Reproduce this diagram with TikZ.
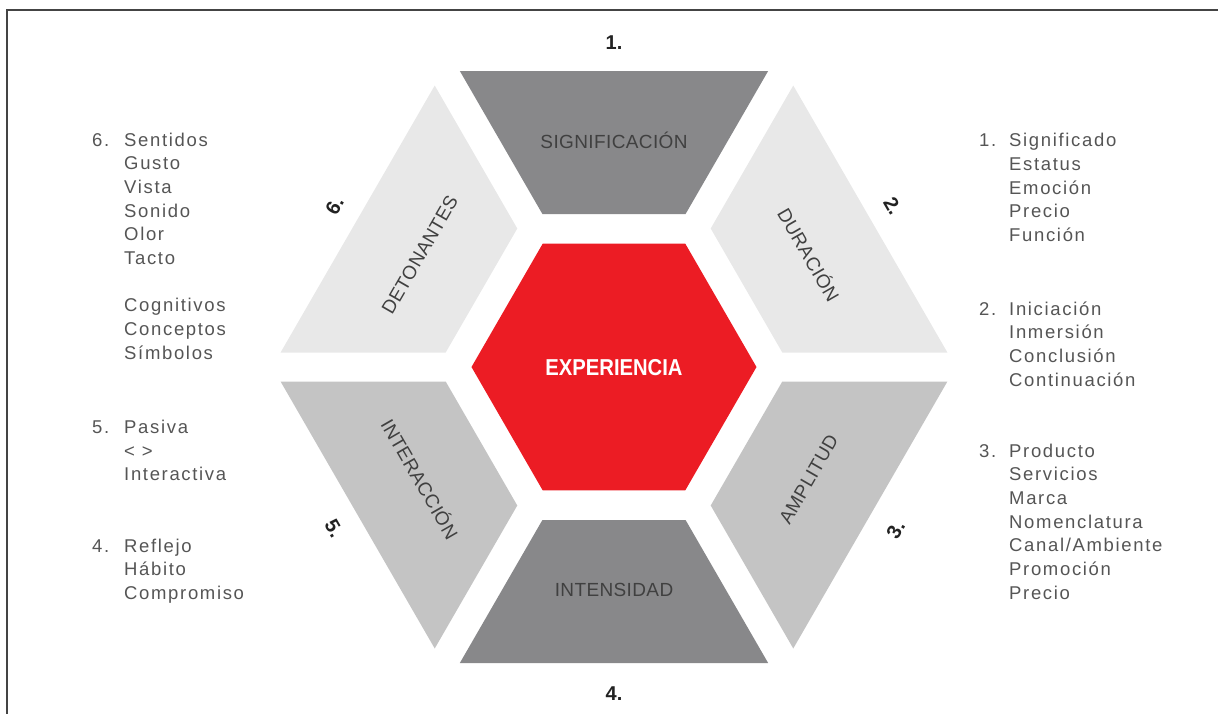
\documentclass[tikz,border=0pt]{standalone}
\usepackage{fontspec}
\setmainfont{Liberation Sans}
\newfontfamily\listfont[LetterSpace=9]{Liberation Sans}
\newfontfamily\lblfont[LetterSpace=2]{Liberation Sans}
\newfontfamily\expfont[FakeStretch=0.88]{Liberation Sans}
\definecolor{segdark}{HTML}{88888A}
\definecolor{seglight}{HTML}{E8E8E8}
\definecolor{segmid}{HTML}{C4C4C4}
\definecolor{expred}{HTML}{EC1C24}
\definecolor{txtgray}{HTML}{555555}
\definecolor{lblgray}{HTML}{404040}
\definecolor{numblack}{HTML}{222222}
\definecolor{framegray}{HTML}{444444}
\begin{document}
\begin{tikzpicture}[x=1pt,y=1pt,
  lbl/.style={font=\lblfont\fontsize{19}{19}\selectfont, text=lblgray, inner sep=0pt, text height=13.6pt, text depth=0pt},
  numlbl/.style={font=\bfseries\fontsize{20}{20}\selectfont, text=numblack, inner sep=0pt, text height=14.3pt, text depth=0pt},
  listtxt/.style={font=\listfont\fontsize{18.5}{23.7}\selectfont, text=txtgray, inner sep=0pt, anchor=base west},
  listnum/.style={font=\listfont\fontsize{18.5}{23.7}\selectfont, text=txtgray, inner sep=0pt, anchor=base west},
]
\useasboundingbox (-614,-346) rectangle (604,367);
% frame
\draw[framegray, line width=2pt, line join=miter] (-607,-360) -- (-607,357) -- (620,357);
% segments
\foreach \ang/\col in {90/segdark, 30/seglight, -30/segmid, -90/segdark, -150/segmid, 150/seglight}
  \fill[\col, rotate=\ang] (153,-71.59) -- (296,-154.15) -- (296,154.15) -- (153,71.59) -- cycle;
% centre
\fill[expred] (0:142.5) -- (60:142.5) -- (120:142.5) -- (180:142.5) -- (240:142.5) -- (300:142.5) -- cycle;
\node[font=\expfont\bfseries\fontsize{23}{23}\selectfont, text=white, inner sep=0pt, text height=16.5pt, text depth=0pt] (exp) at (0,0) {EXPERIENCIA};
% segment labels
\node[lbl] (lsig) at (90:225) {SIGNIFICACIÓN};
\node[lbl, rotate=-60] (ldur) at (30:224.5) {DURACIÓN};
\node[lbl, rotate=60] (lamp) at (-30:224.5) {AMPLITUD};
\node[lbl] (lint) at (-90:223) {INTENSIDAD};
\node[lbl, rotate=-60] (linter) at (-150:224.5) {INTERACCIÓN};
\node[lbl, rotate=60] (ldet) at (150:224.5) {DETONANTES};
% numbers
\node[numlbl] (n1) at (90:325) {1.};
\node[numlbl, rotate=-60] (n2) at (30:322) {2.};
\node[numlbl, rotate=60] (n3) at (-30:325) {3.};
\node[numlbl] (n4) at (-90:326) {4.};
\node[numlbl, rotate=-60] (n5) at (-150:323) {5.};
\node[numlbl, rotate=60] (n6) at (150:323) {6.};
% left lists
\node[listnum] (k6) at (-522,221) {6.};
\node[listtxt] (t6) at (-490,221) {\begin{tabular}[t]{@{}l@{}}Sentidos\\Gusto\\Vista\\Sonido\\Olor\\Tacto\\ \\Cognitivos\\Conceptos\\Símbolos\end{tabular}};
\node[listnum] (k5) at (-522,-66.3) {5.};
\node[listtxt] (t5) at (-490,-66.3) {\begin{tabular}[t]{@{}l@{}}Pasiva\\< >\\Interactiva\end{tabular}};
\node[listnum] (k4) at (-522,-185) {4.};
\node[listtxt] (t4) at (-490,-185) {\begin{tabular}[t]{@{}l@{}}Reflejo\\Hábito\\Compromiso\end{tabular}};
% right lists
\node[listnum] (k1) at (365,220.3) {1.};
\node[listtxt] (t1) at (395,220.3) {\begin{tabular}[t]{@{}l@{}}Significado\\Estatus\\Emoción\\Precio\\Función\end{tabular}};
\node[listnum] (k2) at (365,52) {2.};
\node[listtxt] (t2) at (395,52) {\begin{tabular}[t]{@{}l@{}}Iniciación\\Inmersión\\Conclusión\\Continuación\end{tabular}};
\node[listnum] (k3) at (365,-90) {3.};
\node[listtxt] (t3) at (395,-90) {\begin{tabular}[t]{@{}l@{}}Producto\\Servicios\\Marca\\Nomenclatura\\Canal/Ambiente\\Promoción\\Precio\end{tabular}};
\end{tikzpicture}
\end{document}
